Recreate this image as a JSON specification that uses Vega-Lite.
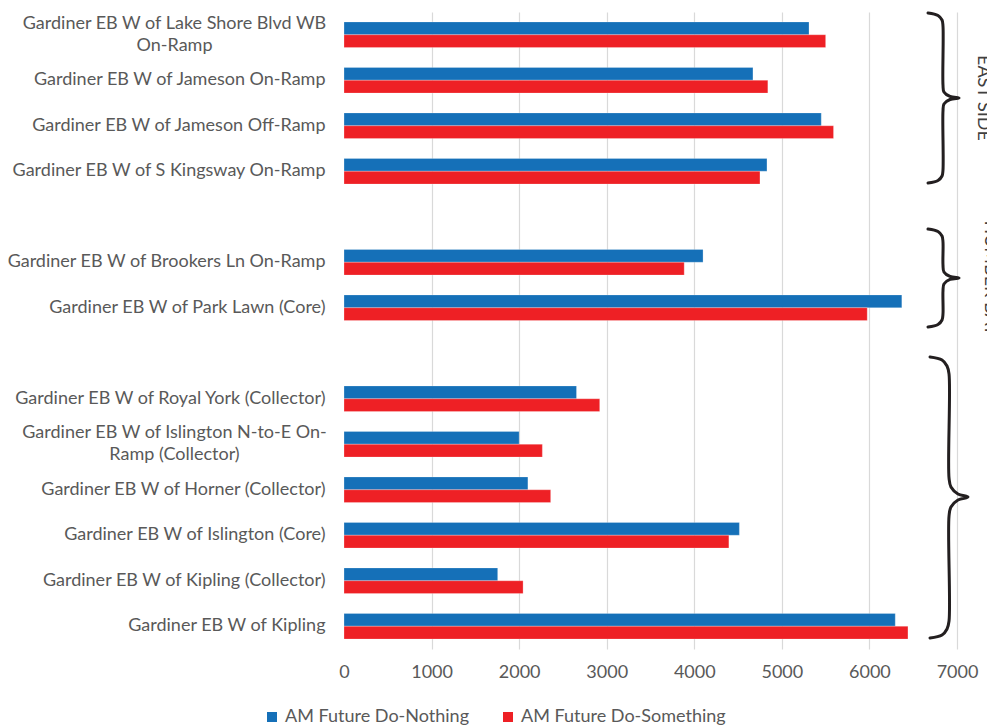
{
  "$schema": "https://vega.github.io/schema/vega-lite/v6.json",
  "autosize": "none",
  "width": 613,
  "height": 637,
  "padding": {"left": 344, "top": 12, "right": 30, "bottom": 78},
  "background": "white",
  "config": {
    "font": "Lato",
    "view": {"stroke": null},
    "axis": {"labelFont": "Lato", "labelColor": "#595959", "labelFontSize": 18}
  },
  "datasets": {
    "bars": [
      {"segment": "Gardiner EB W of Lake Shore Blvd WB On-Ramp", "series": "AM Future Do-Nothing", "volume": 5310},
      {"segment": "Gardiner EB W of Lake Shore Blvd WB On-Ramp", "series": "AM Future Do-Something", "volume": 5500},
      {"segment": "Gardiner EB W of Jameson On-Ramp", "series": "AM Future Do-Nothing", "volume": 4670},
      {"segment": "Gardiner EB W of Jameson On-Ramp", "series": "AM Future Do-Something", "volume": 4840},
      {"segment": "Gardiner EB W of Jameson Off-Ramp", "series": "AM Future Do-Nothing", "volume": 5450},
      {"segment": "Gardiner EB W of Jameson Off-Ramp", "series": "AM Future Do-Something", "volume": 5590},
      {"segment": "Gardiner EB W of S Kingsway On-Ramp", "series": "AM Future Do-Nothing", "volume": 4830},
      {"segment": "Gardiner EB W of S Kingsway On-Ramp", "series": "AM Future Do-Something", "volume": 4750},
      {"segment": "Gardiner EB W of Brookers Ln On-Ramp", "series": "AM Future Do-Nothing", "volume": 4100},
      {"segment": "Gardiner EB W of Brookers Ln On-Ramp", "series": "AM Future Do-Something", "volume": 3885},
      {"segment": "Gardiner EB W of Park Lawn (Core)", "series": "AM Future Do-Nothing", "volume": 6370},
      {"segment": "Gardiner EB W of Park Lawn (Core)", "series": "AM Future Do-Something", "volume": 5975},
      {"segment": "Gardiner EB W of Royal York (Collector)", "series": "AM Future Do-Nothing", "volume": 2655},
      {"segment": "Gardiner EB W of Royal York (Collector)", "series": "AM Future Do-Something", "volume": 2920},
      {"segment": "Gardiner EB W of Islington N-to-E On-Ramp (Collector)", "series": "AM Future Do-Nothing", "volume": 2000},
      {"segment": "Gardiner EB W of Islington N-to-E On-Ramp (Collector)", "series": "AM Future Do-Something", "volume": 2265},
      {"segment": "Gardiner EB W of Horner (Collector)", "series": "AM Future Do-Nothing", "volume": 2100},
      {"segment": "Gardiner EB W of Horner (Collector)", "series": "AM Future Do-Something", "volume": 2360},
      {"segment": "Gardiner EB W of Islington (Core)", "series": "AM Future Do-Nothing", "volume": 4515},
      {"segment": "Gardiner EB W of Islington (Core)", "series": "AM Future Do-Something", "volume": 4395},
      {"segment": "Gardiner EB W of Kipling (Collector)", "series": "AM Future Do-Nothing", "volume": 1755},
      {"segment": "Gardiner EB W of Kipling (Collector)", "series": "AM Future Do-Something", "volume": 2045},
      {"segment": "Gardiner EB W of Kipling", "series": "AM Future Do-Nothing", "volume": 6295},
      {"segment": "Gardiner EB W of Kipling", "series": "AM Future Do-Something", "volume": 6440}
    ],
    "braces": [
      {"brace": "east", "x": 6669, "y": 0.022}, {"brace": "east", "x": 6783, "y": 0.077}, {"brace": "east", "x": 6829, "y": 0.176}, {"brace": "east", "x": 6840, "y": 0.308},
      {"brace": "east", "x": 6840, "y": 1.604}, {"brace": "east", "x": 6851, "y": 1.758}, {"brace": "east", "x": 6920, "y": 1.857}, {"brace": "east", "x": 7023, "y": 1.89},
      {"brace": "east", "x": 6920, "y": 1.923}, {"brace": "east", "x": 6851, "y": 2.022}, {"brace": "east", "x": 6840, "y": 2.176}, {"brace": "east", "x": 6840, "y": 3.473},
      {"brace": "east", "x": 6829, "y": 3.604}, {"brace": "east", "x": 6783, "y": 3.703}, {"brace": "east", "x": 6669, "y": 3.758},
      {"brace": "mid", "x": 6669, "y": 4.769}, {"brace": "mid", "x": 6783, "y": 4.824}, {"brace": "mid", "x": 6829, "y": 4.923}, {"brace": "mid", "x": 6840, "y": 5.055},
      {"brace": "mid", "x": 6840, "y": 5.56}, {"brace": "mid", "x": 6851, "y": 5.714}, {"brace": "mid", "x": 6920, "y": 5.813}, {"brace": "mid", "x": 7023, "y": 5.846},
      {"brace": "mid", "x": 6920, "y": 5.879}, {"brace": "mid", "x": 6851, "y": 5.978}, {"brace": "mid", "x": 6840, "y": 6.132}, {"brace": "mid", "x": 6840, "y": 6.637},
      {"brace": "mid", "x": 6829, "y": 6.769}, {"brace": "mid", "x": 6783, "y": 6.868}, {"brace": "mid", "x": 6669, "y": 6.923},
      {"brace": "west", "x": 6692, "y": 7.582}, {"brace": "west", "x": 6829, "y": 7.648}, {"brace": "west", "x": 6886, "y": 7.78}, {"brace": "west", "x": 6909, "y": 7.956},
      {"brace": "west", "x": 6909, "y": 10.242}, {"brace": "west", "x": 6931, "y": 10.44}, {"brace": "west", "x": 7011, "y": 10.593}, {"brace": "west", "x": 7125, "y": 10.659},
      {"brace": "west", "x": 7011, "y": 10.725}, {"brace": "west", "x": 6931, "y": 10.879}, {"brace": "west", "x": 6909, "y": 11.077}, {"brace": "west", "x": 6909, "y": 13.385},
      {"brace": "west", "x": 6886, "y": 13.56}, {"brace": "west", "x": 6829, "y": 13.692}, {"brace": "west", "x": 6692, "y": 13.758}
    ],
    "sections": [
      {"name": "EAST SIDE", "x": 7240, "y": 1.89},
      {"name": "HUMBER BAY", "x": 7320, "y": 5.846},
      {"name": "WEST SIDE", "x": 7400, "y": 10.66}
    ]
  },
  "layer": [
    {
      "data": {"name": "bars"},
      "mark": {"type": "bar", "stroke": "white", "strokeWidth": 0.5, "strokeOpacity": 0.5},
      "encoding": {
        "x": {
          "field": "volume", "type": "quantitative",
          "scale": {"domain": [0, 7000], "nice": false},
          "axis": {
            "title": null, "values": [0, 1000, 2000, 3000, 4000, 5000, 6000, 7000], "format": "d",
            "domain": false, "ticks": false, "tickSize": 0, "labelPadding": 14, "labelFlush": false,
            "grid": true, "gridColor": "#d9d9d9", "gridWidth": 1.2,
            "gridOpacity": {"condition": {"test": "datum.value === 0", "value": 0}, "value": 1}
          }
        },
        "y": {
          "field": "segment", "type": "nominal",
          "scale": {
            "domain": [
              "Gardiner EB W of Lake Shore Blvd WB On-Ramp",
              "Gardiner EB W of Jameson On-Ramp",
              "Gardiner EB W of Jameson Off-Ramp",
              "Gardiner EB W of S Kingsway On-Ramp",
              " ",
              "Gardiner EB W of Brookers Ln On-Ramp",
              "Gardiner EB W of Park Lawn (Core)",
              "  ",
              "Gardiner EB W of Royal York (Collector)",
              "Gardiner EB W of Islington N-to-E On-Ramp (Collector)",
              "Gardiner EB W of Horner (Collector)",
              "Gardiner EB W of Islington (Core)",
              "Gardiner EB W of Kipling (Collector)",
              "Gardiner EB W of Kipling"
            ],
            "paddingInner": 0, "paddingOuter": 0
          },
          "axis": {
            "title": null, "domain": false, "ticks": false, "tickSize": 0, "grid": false,
            "labelLimit": 400, "labelLineHeight": 22,
            "labelAlign": {"condition": {"test": "datum.value === 'Gardiner EB W of Lake Shore Blvd WB On-Ramp' || datum.value === 'Gardiner EB W of Islington N-to-E On-Ramp (Collector)'", "value": "center"}, "value": "right"},
            "labelPadding": {"condition": {"test": "datum.value === 'Gardiner EB W of Lake Shore Blvd WB On-Ramp' || datum.value === 'Gardiner EB W of Islington N-to-E On-Ramp (Collector)'", "value": 170}, "value": 19},
            "labelOffset": {"condition": {"test": "datum.value === 'Gardiner EB W of Lake Shore Blvd WB On-Ramp' || datum.value === 'Gardiner EB W of Islington N-to-E On-Ramp (Collector)'", "value": -11}, "value": 0},
            "labelExpr": "datum.value === 'Gardiner EB W of Lake Shore Blvd WB On-Ramp' ? ['Gardiner EB W of Lake Shore Blvd WB', 'On-Ramp'] : datum.value === 'Gardiner EB W of Islington N-to-E On-Ramp (Collector)' ? ['Gardiner EB W of Islington N-to-E On-', 'Ramp (Collector)'] : datum.label"
          }
        },
        "yOffset": {
          "field": "series", "type": "nominal",
          "scale": {"domain": ["AM Future Do-Nothing", "AM Future Do-Something"], "paddingInner": 0, "paddingOuter": 0.77}
        },
        "color": {
          "field": "series", "type": "nominal",
          "scale": {"domain": ["AM Future Do-Nothing", "AM Future Do-Something"], "range": ["#1570B8", "#EE2025"]},
          "legend": {
            "title": null, "orient": "none", "direction": "horizontal",
            "legendX": -81, "legendY": 696,
            "symbolType": "square", "symbolSize": 100, "symbolStrokeWidth": 0,
            "labelFont": "Lato", "labelFontSize": 18, "labelColor": "#595959", "labelLimit": 400,
            "labelOffset": 4, "columnPadding": 29, "padding": 0
          }
        }
      }
    },
    {
      "data": {"name": "braces"},
      "mark": {"type": "line", "interpolate": "catmull-rom", "color": "#231f20", "strokeWidth": 3, "strokeCap": "round", "clip": false},
      "encoding": {
        "x": {"field": "x", "type": "quantitative", "scale": {"domain": [0, 7000], "nice": false}},
        "y": {"field": "y", "type": "quantitative", "scale": {"domain": [0, 14], "reverse": true, "nice": false, "zero": false}, "axis": null},
        "detail": {"field": "brace"},
        "order": {"field": "y", "type": "quantitative"}
      }
    },
    {
      "data": {"name": "sections"},
      "mark": {"type": "text", "angle": 90, "align": "center", "baseline": "alphabetic", "font": "Lato", "fontSize": 18, "color": "#404040"},
      "encoding": {
        "x": {"field": "x", "type": "quantitative", "scale": {"domain": [0, 7000], "nice": false}},
        "y": {"field": "y", "type": "quantitative", "scale": {"domain": [0, 14], "reverse": true, "nice": false, "zero": false}, "axis": null},
        "text": {"field": "name"}
      }
    }
  ],
  "resolve": {"scale": {"y": "independent"}, "axis": {"y": "independent"}}
}
